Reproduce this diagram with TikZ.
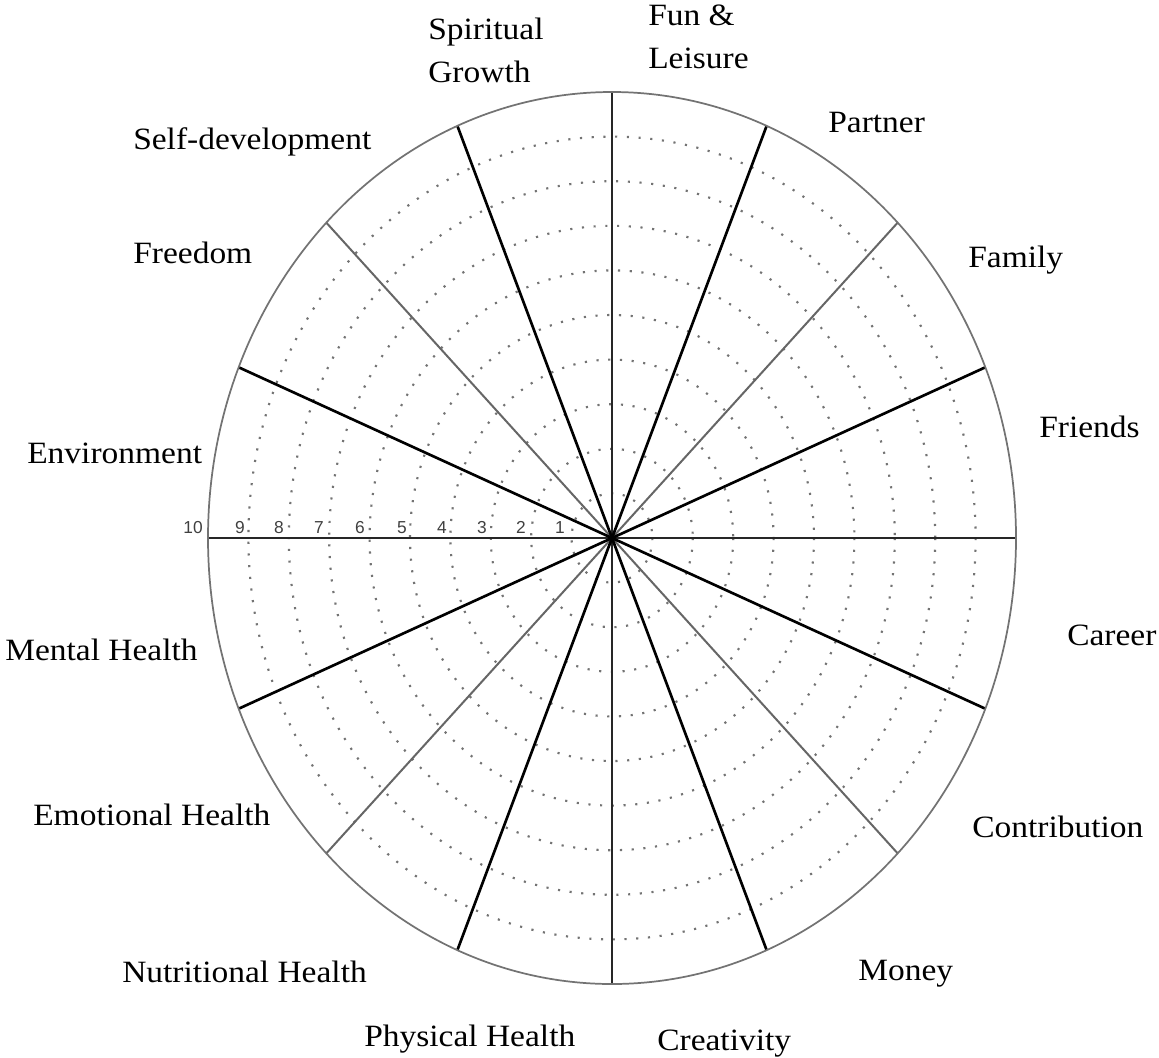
\documentclass[tikz,border=0pt]{standalone}
\usepackage{fontspec}
\setmainfont{Liberation Serif}[FakeStretch=1.08]
\newfontfamily\scalefont{Liberation Sans}
\begin{document}
\begin{tikzpicture}[x=0.75pt,y=-0.75pt,
  lbl/.style={anchor=base west, inner sep=0pt, align=left,
    font=\fontsize{23.25}{32.25}\selectfont},
  num/.style={anchor=base, inner sep=0pt, text=black!75,
    font=\scalefont\fontsize{13}{13}\selectfont},
  rim/.style={draw=black!55, line width=1.3pt},
  ring/.style={draw=black!55, line width=1.6pt, dash pattern=on 1.6pt off 7.2pt},
  axis/.style={draw=black!85, line width=1.5pt},
  spoke/.style={draw=black, line width=2pt},
  diag/.style={draw=black!60, line width=1.5pt}]
\useasboundingbox (0,0) rectangle (1159,1057);
\coordinate (c) at (612,538);

% dotted score rings 1..9
\foreach \k in {1,...,9}
  \draw[ring] (c) ellipse [x radius=40.4*\k, y radius=44.6*\k];

% spoke end points on the rim, both sides of the centre
\foreach \i/\t in {0/0, 1/22.5, 2/45, 3/67.5, 4/90, 5/112.5, 6/135, 7/157.5} {
  \path (c) ++(\t:404 and 446) coordinate (p\i);
  \path (c) ++(\t+180:404 and 446) coordinate (q\i);
}
\foreach \i in {0,4} \draw[axis] (p\i) -- (q\i);
\foreach \i in {2,6} \draw[diag] (p\i) -- (q\i);
\foreach \i in {1,3,5,7} \draw[spoke] (p\i) -- (q\i);

% outer rim
\draw[rim] (c) ellipse [x radius=404, y radius=446];

% scale numbers along the left axis
\foreach \k/\x in {10/193, 9/240, 8/279, 7/319, 6/360, 5/402, 4/442, 3/482, 2/521, 1/560}
  \node[num] (n\k) at (\x,533) {\k};

% area labels (two-line labels are placed by their last baseline)
\node[lbl] (fun)     at (648,68)   {Fun \&\\Leisure};
\node[lbl] (spirit)  at (428,82)   {Spiritual\\Growth};
\node[lbl] (partner) at (828,132)  {Partner};
\node[lbl] (selfdev) at (133,149)  {Self-development};
\node[lbl] (family)  at (968,267)  {Family};
\node[lbl] (freedom) at (133,263)  {Freedom};
\node[lbl] (friends) at (1039,437) {Friends};
\node[lbl] (env)     at (27,463)   {Environment};
\node[lbl] (career)  at (1067,645) {Career};
\node[lbl] (mental)  at (5,660)    {Mental Health};
\node[lbl] (emo)     at (33,825)   {Emotional Health};
\node[lbl] (contrib) at (972,837)  {Contribution};
\node[lbl] (money)   at (858,980)  {Money};
\node[lbl] (nutri)   at (122,982)  {Nutritional Health};
\node[lbl] (phys)    at (364,1046) {Physical Health};
\node[lbl] (creat)   at (657,1050) {Creativity};
\end{tikzpicture}
\end{document}
